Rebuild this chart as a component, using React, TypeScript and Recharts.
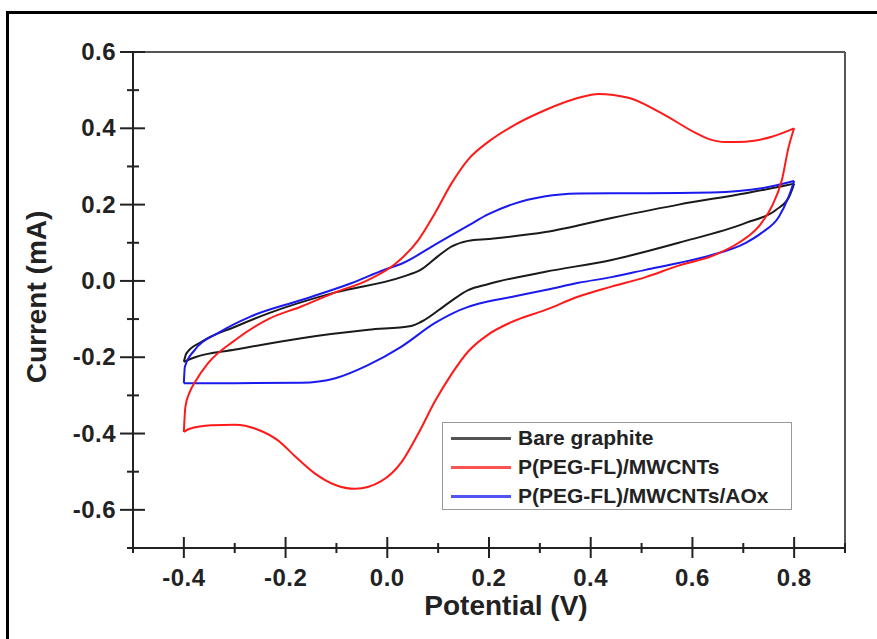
import { LineChart, Line, XAxis, YAxis, ReferenceLine } from 'recharts'

// potential sweep: anodic (forward) and cathodic (reverse) branches, V ascending in both
const bareFwdV = [-0.4, -0.395, -0.366, -0.299, -0.234, -0.102, 0.028, 0.067, 0.1, 0.126, 0.159, 0.199, 0.311, 0.441, 0.573, 0.705, 0.783, 0.8]
const bareFwdI = [-0.212, -0.19, -0.16, -0.12, -0.085, -0.03, 0.01, 0.03, 0.065, 0.09, 0.105, 0.11, 0.128, 0.165, 0.2, 0.23, 0.25, 0.255]
const bareRevV = [-0.4, -0.378, -0.299, -0.169, -0.037, 0.047, 0.067, 0.12, 0.159, 0.199, 0.311, 0.441, 0.573, 0.705, 0.764, 0.79, 0.8]
const bareRevI = [-0.212, -0.2, -0.18, -0.15, -0.128, -0.118, -0.107, -0.058, -0.024, -0.008, 0.024, 0.055, 0.1, 0.152, 0.186, 0.22, 0.255]

const cntFwdV = [-0.4, -0.397, -0.388, -0.378, -0.352, -0.299, -0.234, -0.169, -0.102, -0.037, 0.016, 0.061, 0.094, 0.126, 0.159, 0.199, 0.244, 0.311, 0.376, 0.415, 0.474, 0.539, 0.606, 0.63, 0.665, 0.705, 0.756, 0.8]
const cntFwdI = [-0.396, -0.33, -0.29, -0.265, -0.215, -0.155, -0.1, -0.067, -0.03, 0.003, 0.045, 0.107, 0.178, 0.255, 0.318, 0.365, 0.404, 0.448, 0.48, 0.49, 0.48, 0.44, 0.388, 0.373, 0.364, 0.365, 0.378, 0.4]
const cntRevV = [-0.4, -0.39, -0.346, -0.299, -0.254, -0.215, -0.181, -0.142, -0.102, -0.063, -0.012, 0.028, 0.061, 0.094, 0.126, 0.159, 0.199, 0.244, 0.311, 0.376, 0.441, 0.508, 0.573, 0.638, 0.691, 0.73, 0.756, 0.776, 0.789, 0.8]
const cntRevI = [-0.396, -0.388, -0.378, -0.377, -0.39, -0.418, -0.46, -0.505, -0.535, -0.545, -0.525, -0.475, -0.4, -0.315, -0.245, -0.185, -0.14, -0.108, -0.076, -0.041, -0.015, 0.01, 0.04, 0.065, 0.1, 0.142, 0.195, 0.265, 0.35, 0.4]

const aoxFwdV = [-0.4, -0.398, -0.378, -0.333, -0.268, -0.169, -0.071, -0.004, 0.028, 0.094, 0.159, 0.199, 0.244, 0.311, 0.376, 0.441, 0.508, 0.638, 0.736, 0.8]
const aoxFwdI = [-0.268, -0.225, -0.18, -0.137, -0.093, -0.05, -0.006, 0.03, 0.045, 0.095, 0.145, 0.175, 0.2, 0.222, 0.229, 0.23, 0.23, 0.232, 0.243, 0.262]
const aoxRevV = [-0.4, -0.299, -0.169, -0.102, -0.037, 0.028, 0.094, 0.159, 0.179, 0.244, 0.311, 0.376, 0.441, 0.508, 0.573, 0.638, 0.705, 0.736, 0.77, 0.789, 0.8]
const aoxRevI = [-0.268, -0.268, -0.267, -0.255, -0.22, -0.172, -0.11, -0.068, -0.06, -0.042, -0.024, -0.005, 0.01, 0.029, 0.047, 0.068, 0.1, 0.126, 0.168, 0.22, 0.262]

const seriesNames = ['Bare graphite', 'P(PEG-FL)/MWCNTs', 'P(PEG-FL)/MWCNTs/AOx']
const seriesColors = ['#1a1a1a', '#ff1a1a', '#1a1aee']

const xTicks = [-0.5, -0.4, -0.3, -0.2, -0.1, 0.0, 0.1, 0.2, 0.3, 0.4, 0.5, 0.6, 0.7, 0.8, 0.9]
const xLabels = ['-0.4', '-0.2', '0.0', '0.2', '0.4', '0.6', '0.8']
const yTicks = [-0.7, -0.6, -0.5, -0.4, -0.3, -0.2, -0.1, 0.0, 0.1, 0.2, 0.3, 0.4, 0.5, 0.6]
const yLabels = ['-0.6', '-0.4', '-0.2', '0.0', '0.2', '0.4', '0.6']

const toPts = (vs: number[], is: number[]) => vs.map((v, k) => ({ v, i: is[k] }))

const branches = [
  { key: 'bf', data: toPts(bareFwdV, bareFwdI), s: 0 },
  { key: 'br', data: toPts(bareRevV, bareRevI), s: 0 },
  { key: 'af', data: toPts(aoxFwdV, aoxFwdI), s: 2 },
  { key: 'ar', data: toPts(aoxRevV, aoxRevI), s: 2 },
  { key: 'cf', data: toPts(cntFwdV, cntFwdI), s: 1 },
  { key: 'cr', data: toPts(cntRevV, cntRevI), s: 1 },
]

const FONT = '"Liberation Sans", Arial, sans-serif'
const AX = '#222'

const YTick = (props: any) => {
  const { x, y, payload } = props
  const label = Number(payload.value).toFixed(1)
  const major = yLabels.includes(label)
  return (
    <g>
      <line x1={major ? x - 13 : x - 6} x2={major ? x + 12 : x + 6} y1={y} y2={y} stroke={AX} strokeWidth={2} />
      {major && (
        <text x={x - 17} y={y + 8} textAnchor="end" fontFamily={FONT} fontWeight="bold" fontSize={24} letterSpacing={0.5} fill="#222">
          {label}
        </text>
      )}
    </g>
  )
}

const XTick = (props: any) => {
  const { x, y, payload } = props
  const label = Number(payload.value).toFixed(1)
  const major = xLabels.includes(label)
  return (
    <g>
      <line x1={x} x2={x} y1={major ? y - 11 : y - 5} y2={major ? y + 10 : y + 5} stroke={AX} strokeWidth={2} />
      {major && (
        <text x={x} y={y + 38} textAnchor="middle" fontFamily={FONT} fontWeight="bold" fontSize={24} letterSpacing={0.5} fill="#222">
          {label}
        </text>
      )}
    </g>
  )
}

export default function App() {
  return (
    <div style={{ position: 'absolute', left: 0, top: 0, width: 877, height: 639, overflow: 'hidden', background: '#fff' }}>
      <div style={{ position: 'absolute', left: 6, top: 11, width: 1000, height: 1000, border: '3px solid #000' }} />
      <div style={{ position: 'absolute', left: 0, top: 0 }}>
        <LineChart width={877} height={639} margin={{ top: 52, right: 32, bottom: 51, left: 73 }}>
          <XAxis
            dataKey="v"
            type="number"
            domain={[-0.5, 0.9]}
            ticks={xTicks}
            allowDataOverflow
            height={40}
            tickSize={0}
            tickMargin={0}
            tickLine={false}
            axisLine={{ stroke: AX, strokeWidth: 2 }}
            tick={<XTick />}
            interval={0}
          />
          <YAxis
            dataKey="i"
            type="number"
            domain={[-0.7, 0.6]}
            ticks={yTicks}
            allowDataOverflow
            width={60}
            tickSize={0}
            tickMargin={0}
            tickLine={false}
            axisLine={{ stroke: AX, strokeWidth: 2 }}
            tick={<YTick />}
            interval={0}
          />
          <ReferenceLine y={0.6} stroke="#555" strokeWidth={2} />
          <ReferenceLine x={0.9} stroke="#555" strokeWidth={2} />
          {branches.map((b) => (
            <Line
              key={b.key}
              data={b.data}
              dataKey="i"
              type="monotone"
              stroke={seriesColors[b.s]}
              strokeWidth={2}
              dot={false}
              activeDot={false}
              isAnimationActive={false}
            />
          ))}
        </LineChart>
      </div>
      <div
        style={{
          position: 'absolute', left: 356, top: 590, width: 300, textAlign: 'center',
          fontFamily: FONT, fontWeight: 'bold', fontSize: 28, color: '#222', lineHeight: '32px',
        }}
      >
        Potential (V)
      </div>
      <div style={{ position: 'absolute', left: 37, top: 297, width: 0, height: 0 }}>
        <div
          style={{
            position: 'absolute', left: -150, top: -16, width: 300, textAlign: 'center', transform: 'rotate(-90deg)',
            fontFamily: FONT, fontWeight: 'bold', fontSize: 28, color: '#222', lineHeight: '32px',
          }}
        >
          Current (mA)
        </div>
      </div>
      <div
        style={{
          position: 'absolute', left: 442, top: 422, width: 348, height: 86, border: '1.5px solid #999',
          background: '#fff', fontFamily: FONT, fontWeight: 'bold', fontSize: 21, color: '#222',
        }}
      >
        {seriesNames.map((n, k) => (
          <div key={n} style={{ position: 'absolute', left: 8, top: 2 + k * 29, height: 26, display: 'flex', alignItems: 'center' }}>
            <div style={{ width: 60, height: 3, background: seriesColors[k], opacity: 0.75, marginRight: 7 }} />
            <span>{n}</span>
          </div>
        ))}
      </div>
    </div>
  )
}
